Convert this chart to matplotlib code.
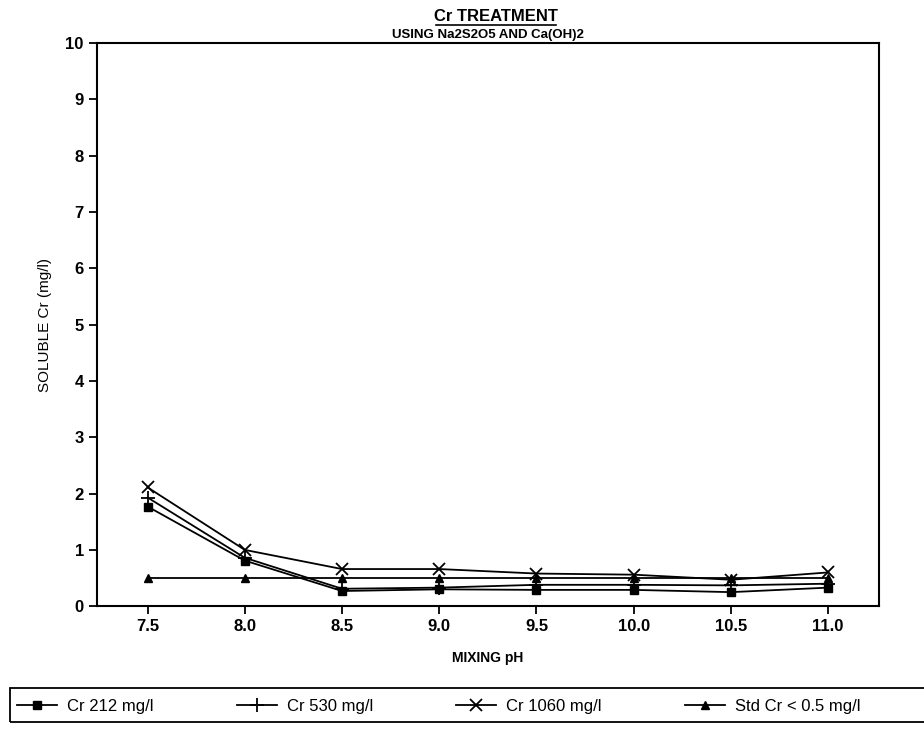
import matplotlib
matplotlib.use("Agg")
import matplotlib.pyplot as plt
from matplotlib.patches import Rectangle

plt.rcParams['font.family'] = ['Liberation Sans', 'DejaVu Sans']

# mixing pH
ph = [7.5, 8.0, 8.5, 9.0, 9.5, 10.0, 10.5, 11.0]
# soluble Cr (mg/l)
cr212 = [1.77, 0.81, 0.27, 0.30, 0.29, 0.29, 0.25, 0.33]
cr530 = [1.93, 0.86, 0.31, 0.33, 0.38, 0.38, 0.37, 0.40]
cr1060 = [2.11, 1.00, 0.66, 0.66, 0.58, 0.56, 0.47, 0.60]
std = [0.50, 0.50, 0.50, 0.50, 0.50, 0.50, 0.50, 0.50]

labels = ['Cr 212 mg/l', 'Cr 530 mg/l', 'Cr 1060 mg/l', 'Std Cr < 0.5 mg/l']
xticks = [7.5, 8.0, 8.5, 9.0, 9.5, 10.0, 10.5, 11.0]
yticks = list(range(0, 11))

fig = plt.figure(figsize=(9.24, 7.42), dpi=100)
ax = fig.add_axes([0.105, 0.183, 0.846, 0.759])

ax.plot(ph, cr212, color='black', lw=1.3, marker='s', ms=6, label=labels[0])
ax.plot(ph, cr530, color='black', lw=1.3, marker='+', ms=10, mew=1.3, label=labels[1])
ax.plot(ph, cr1060, color='black', lw=1.3, marker='x', ms=9, mew=1.3, label=labels[2])
ax.plot(ph, std, color='black', lw=1.3, marker='^', ms=6, label=labels[3])

ax.set_xlim(7.24, 11.26)
ax.set_ylim(0, 10)
ax.set_xticks(xticks)
ax.set_xticklabels(['%.1f' % v for v in xticks], fontweight='bold')
ax.set_yticks(yticks)
ax.set_yticklabels([str(v) for v in yticks], fontweight='bold')
ax.tick_params(direction='out', length=6, width=1.3, labelsize=12, colors='black')
for s in ['left', 'bottom', 'top', 'right']:
    ax.spines[s].set_linewidth(1.5)

ax.set_xlabel('MIXING pH', fontsize=10, fontweight='bold', labelpad=12)
ax.set_ylabel('SOLUBLE Cr (mg/l)', fontsize=11, labelpad=10)

fig.text(0.537, 0.978, 'Cr TREATMENT', ha='center', va='center', fontsize=12, fontweight='bold')
fig.text(0.528, 0.953, 'USING Na2S2O5 AND Ca(OH)2', ha='center', va='center', fontsize=9.5, fontweight='bold')
# underline the title
fig.add_artist(plt.Line2D([0.472, 0.602], [0.966, 0.966], color='black', lw=1.2))

leg = fig.legend(loc='lower left', bbox_to_anchor=(0.011, 0.029),
                 ncol=4, fontsize=12, frameon=False, handlelength=2.4, handletextpad=0.6,
                 columnspacing=5.0, borderaxespad=0, borderpad=0.4)
# legend box runs off the right edge
fig.add_artist(Rectangle((0.011, 0.027), 1.0, 0.046, transform=fig.transFigure,
                         fill=False, edgecolor='black', lw=1.3))

fig.savefig('out.png', dpi=100)
